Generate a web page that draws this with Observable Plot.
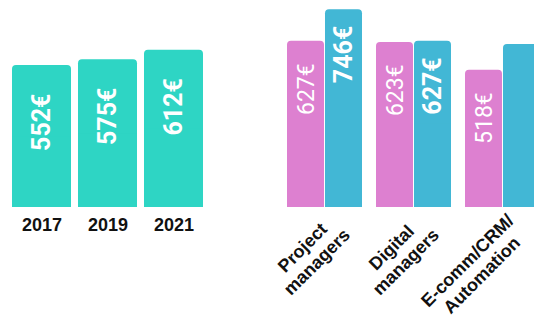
<!DOCTYPE html>
<html><head><meta charset="utf-8">
<script src="https://cdn.jsdelivr.net/npm/d3@7"></script>
<script src="https://cdn.jsdelivr.net/npm/@observablehq/plot@0.6"></script>
<style>
html,body{margin:0;padding:0;background:#fff;}
#wrap{position:relative;width:534px;height:315px;overflow:hidden;background:#fff;}
#left,#right{position:absolute;top:0;}
#left{left:0;width:230px;}
#right{left:230px;width:340px;}
svg{overflow:visible;max-width:none !important;}
</style></head><body>
<div id="wrap"><div id="left"></div><div id="right"></div></div>
<script>
// ---- data ----
const years = ["2017", "2019", "2021"];
const yearValues = [552, 575, 612];
const yearValueLabels = ["552€", "575€", "612€"];

const jobKeys = ["pm", "dm", "ecrm"];
const jobLabels = ["Project\nmanagers", "Digital\nmanagers", "E-comm/CRM/\nAutomation"];
const pinkValues = [627, 623, 518];
const blueValues = [746, 627, 615];
const pinkLabels = ["627€", "623€", "518€"];
const blueLabels = ["746€", "627€", ""];

// ---- styles ----
const turq = "#2ed5c4", pink = "#dd80d0", blue = "#42b7d5";
const tickFont = '"Liberation Sans", Arial, sans-serif';
const valueFont = 'Roboto, sans-serif';

const leftData = years.map((y, i) => ({year: y, value: yearValues[i], label: yearValueLabels[i]}));
const pinkData = jobKeys.map((k, i) => ({job: k, value: pinkValues[i], label: pinkLabels[i]}));
const blueData = jobKeys.map((k, i) => ({job: k, value: blueValues[i], label: blueLabels[i]}));
const catData = jobKeys.map((k, i) => ({job: k, label: jobLabels[i]}));

const left = Plot.plot({
  width: 230, height: 315,
  marginTop: 0, marginBottom: 108, marginLeft: 5, marginRight: 20,
  style: {background: "transparent"},
  x: {domain: years, padding: 0.106, axis: null, round: false},
  y: {domain: [0, 805], axis: null},
  marks: [
    Plot.barY(leftData, {x: "year", y: "value", fill: turq, rx: 4}),
    Plot.barY(leftData, {x: "year", y: d => d.value / 2, fill: turq}),
    Plot.text(leftData, {x: "year", y: "value", text: "label", rotate: -90, textAnchor: "end", lineAnchor: "middle",
      dy: 28, fill: "white", fontSize: 25, fontWeight: "bold", fontFamily: valueFont}),
    Plot.text(leftData, {x: "year", frameAnchor: "bottom", text: "year", lineAnchor: "top", dy: 11,
      fill: "#111", fontSize: 18, fontWeight: "bold", fontFamily: tickFont})
  ]
});
document.getElementById("left").append(left);

// right chart: grouped bars in one band per job
const R_LEFT = 43, R_RIGHT = 16, R_WIDTH = 340, R_PAD = 0.1573;
const step = (R_WIDTH - R_LEFT - R_RIGHT) / (jobKeys.length + R_PAD);
const bw = step * (1 - R_PAD);
const half = bw / 2;

const ctx = document.createElement("canvas").getContext("2d");
ctx.font = 'bold 18px "Liberation Sans", Arial, sans-serif';
const LH = 1.13, FS = 18, K = Math.SQRT1_2;
const catMarks = catData.map(d => {
  const lines = d.label.split("\n");
  const W = Math.max(...lines.map(l => ctx.measureText(l).width));
  const H = lines.length * FS * LH;
  return Plot.text([d], {
    x: "job", frameAnchor: "bottom", text: "label", rotate: -45,
    textAnchor: "middle", lineAnchor: "middle", lineHeight: LH,
    dx: (H / 2 - W / 2) * K, dy: 2.5 + (W / 2 + H / 2) * K,
    fill: "#111", fontSize: FS, fontWeight: "bold", fontFamily: tickFont
  });
});

const right = Plot.plot({
  width: R_WIDTH, height: 315,
  marginTop: 0, marginBottom: 108, marginLeft: R_LEFT, marginRight: R_RIGHT,
  style: {background: "transparent", maxWidth: "none"},
  x: {domain: jobKeys, padding: R_PAD, axis: null, round: false},
  y: {domain: [0, 781], axis: null},
  marks: [
    Plot.barY(pinkData, {x: "job", y: "value", fill: pink, rx: 4, insetRight: half + 0.5}),
    Plot.barY(pinkData, {x: "job", y: d => d.value / 2, fill: pink, insetRight: half + 0.5}),
    Plot.barY(blueData, {x: "job", y: "value", fill: blue, rx: 4, insetLeft: half + 0.5}),
    Plot.barY(blueData, {x: "job", y: d => d.value / 2, fill: blue, insetLeft: half + 0.5}),
    Plot.text(pinkData, {x: "job", y: "value", text: "label", rotate: -90, dx: -half / 2,
      textAnchor: "end", lineAnchor: "middle", dy: 22, fill: "white", fontSize: 23, fontWeight: "normal", fontFamily: valueFont}),
    Plot.text(blueData, {x: "job", y: "value", text: "label", rotate: -90, dx: half / 2,
      textAnchor: "end", lineAnchor: "middle", dy: 16, fill: "white", fontSize: 25, fontWeight: "bold", fontFamily: valueFont}),
    ...catMarks
  ]
});
document.getElementById("right").append(right);
</script>
</body></html>
